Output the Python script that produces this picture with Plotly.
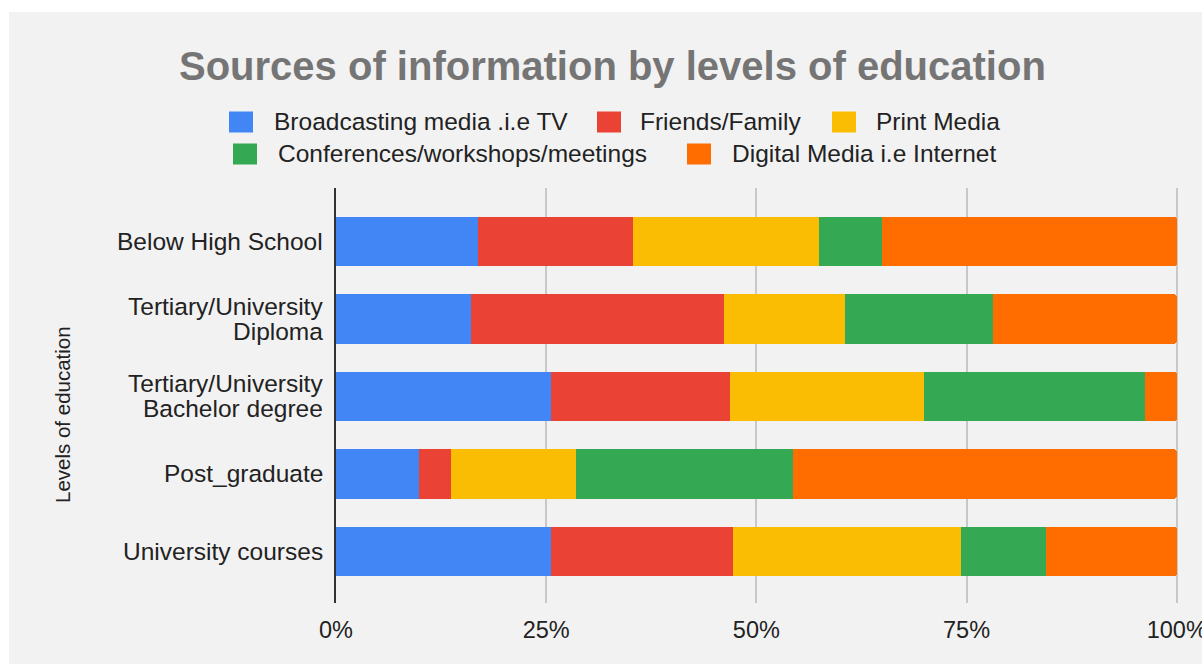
import plotly.graph_objects as go

# Education levels (top to bottom) and the share of each information source (%)
levels = [
    "Below High School",
    "Tertiary/University<br>Diploma",
    "Tertiary/University<br>Bachelor degree",
    "Post_graduate",
    "University courses",
]
sources = [
    "Broadcasting media .i.e TV",
    "Friends/Family",
    "Print Media",
    "Conferences/workshops/meetings",
    "Digital Media i.e Internet",
]
broadcasting = [16.9, 16.1, 25.6, 9.9, 25.6]
friends_family = [18.4, 30.1, 21.3, 3.8, 21.6]
print_media = [22.2, 14.4, 23.0, 14.9, 27.1]
conferences = [7.4, 17.6, 26.3, 25.7, 10.2]
digital = [35.1, 21.8, 3.8, 45.7, 15.5]
x_ticks = [0, 25, 50, 75, 100]
x_tick_labels = [f"{v}%" for v in x_ticks]

series = [broadcasting, friends_family, print_media, conferences, digital]
colors = ["#4285f4", "#ea4335", "#fbbc04", "#34a853", "#ff6d01"]

W, H = 1202, 664
ML, MR, MT, MB = 336, 24, 188, 61
PW, PH = W - ML - MR, H - MT - MB
FONT = "Liberation Sans, Arial, sans-serif"
LABEL_SIZE = 24.5


def px(x):
    return (x - ML) / PW


def py(y):
    return (H - MB - y) / PH


fig = go.Figure()
for name, vals, col in zip(sources, series, colors):
    fig.add_trace(go.Bar(
        y=list(range(len(levels))), x=vals, name=name, orientation="h",
        marker=dict(color=col, line=dict(width=0)),
        showlegend=False,
    ))

shapes = [
    # chart card background
    dict(type="rect", xref="paper", yref="paper", layer="below",
         x0=px(9), x1=px(W + 5), y0=py(12), y1=py(H + 5),
         fillcolor="#f2f2f2", line=dict(width=0)),
]
annotations = [
    dict(text="Sources of information by levels of education",
         xref="paper", yref="paper", x=px(612), y=py(66),
         xanchor="center", yanchor="middle", showarrow=False,
         font=dict(family=FONT, size=40, color="#757575", weight="bold")),
    dict(text="Levels of education", textangle=-90,
         xref="paper", yref="paper", x=px(62), y=py(415),
         xanchor="center", yanchor="middle", showarrow=False,
         font=dict(family=FONT, size=20.5, color="#222222")),
]

# category labels, one annotation per text line for tight line spacing
LINE_GAP = 25
for i, lab in enumerate(levels):
    lines = lab.split("<br>")
    n = len(lines)
    for k, line in enumerate(lines):
        annotations.append(dict(
            text=line, xref="paper", yref="y", x=px(325), y=i,
            yshift=((n - 1) / 2 - k) * LINE_GAP,
            xanchor="right", yanchor="middle", showarrow=False,
            font=dict(family=FONT, size=LABEL_SIZE, color="#222222")))

# legend laid out in two centred rows
legend_pos = [
    (229, 272, 122), (597, 638, 122), (832, 874, 122),
    (233, 276, 154), (687, 730, 154),
]
for (sx, tx, cy), name, col in zip(legend_pos, sources, colors):
    shapes.append(dict(type="rect", xref="paper", yref="paper",
                       x0=px(sx), x1=px(sx + 24), y0=py(cy - 10.5), y1=py(cy + 10.5),
                       fillcolor=col, line=dict(width=0)))
    annotations.append(dict(text=name, xref="paper", yref="paper",
                            x=px(tx), y=py(cy), xanchor="left", yanchor="middle",
                            showarrow=False,
                            font=dict(family=FONT, size=LABEL_SIZE, color="#222222")))

fig.update_layout(
    width=W, height=H,
    margin=dict(l=ML, r=MR, t=MT, b=MB, autoexpand=False),
    paper_bgcolor="#ffffff", plot_bgcolor="rgba(0,0,0,0)",
    barmode="stack", barnorm="percent", bargap=0.36, barcornerradius=3,
    shapes=shapes, annotations=annotations, showlegend=False,
    font=dict(family=FONT, color="#222222"),
    xaxis=dict(range=[0, 100.15], tickmode="array", tickvals=x_ticks,
               ticktext=x_tick_labels, ticklabeloverflow="allow",
               showgrid=True, gridcolor="#c8c8c8", gridwidth=1.5,
               zeroline=False, showline=False, ticks="", ticklabelstandoff=10,
               tickfont=dict(size=23.5, color="#222222"), fixedrange=True),
    yaxis=dict(range=[len(levels) - 1 + 0.665, -0.69],
               tickvals=list(range(len(levels))), showticklabels=False,
               showgrid=False, zeroline=False,
               showline=True, linecolor="#333333", linewidth=1.5,
               ticks="", fixedrange=True),
)

fig.write_html("out.html", config={"displayModeBar": False})
